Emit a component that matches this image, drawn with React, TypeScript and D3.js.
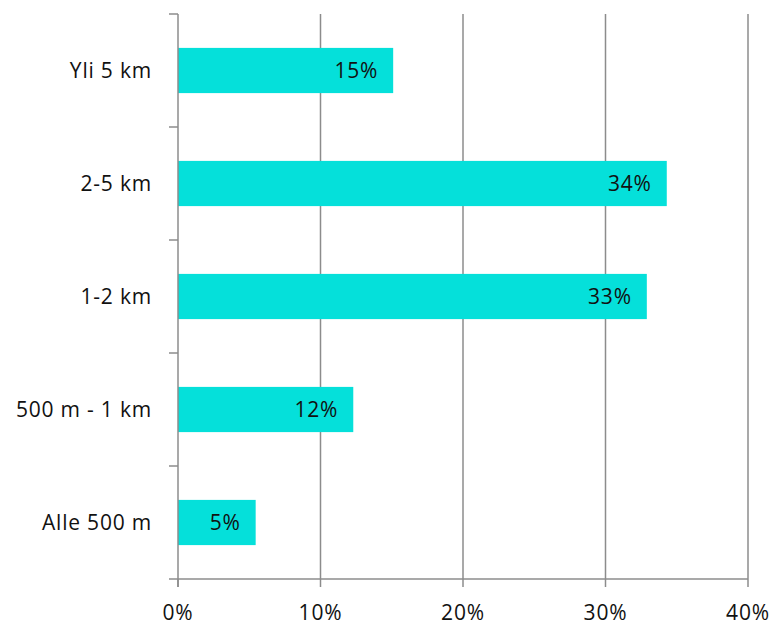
import React from "react";
import * as d3 from "d3";

const categories = ["Yli 5 km", "2-5 km", "1-2 km", "500 m - 1 km", "Alle 500 m"];
const values = [15.1, 34.3, 32.9, 12.3, 5.45];
const valueLabels = ["15%", "34%", "33%", "12%", "5%"];
const xTicks = [0, 10, 20, 30, 40];

export default function App() {
  const W = 775, H = 626;
  const x0 = 178, x1 = 748, y0 = 14, y1 = 579;
  const x = d3.scaleLinear().domain([0, 40]).range([x0, x1]);
  const y = d3.scaleBand().domain(categories).range([y0, y1]).paddingInner(0.6).paddingOuter(0.3);
  const yb = d3.scaleBand().domain(categories).range([y0, y1]);
  const font = "Open Sans, sans-serif";
  const fs = 21;
  const ls = 0.8;
  const gc = "#8c8c8c";
  return (
    <svg width={W} height={H} style={{ position: "absolute", left: 0, top: 0 }}>
      {xTicks.slice(1).map((t) => (
        <line key={t} x1={x(t)} x2={x(t)} y1={y0} y2={y1} stroke={gc} strokeWidth={1.5} />
      ))}
      {categories.map((c, i) => (
        <g key={c}>
          <rect x={x0} y={y(c)} width={x(values[i]) - x0} height={y.bandwidth()} fill="#05E0DA" />
          <text x={x(values[i]) - 15} y={y(c)! + y.bandwidth() / 2} dy="0.36em" textAnchor="end" fontFamily={font} fontSize={fs} letterSpacing={ls} fill="#111">
            {valueLabels[i]}
          </text>
          <text x={152} y={y(c)! + y.bandwidth() / 2} dy="0.36em" textAnchor="end" fontFamily={font} fontSize={fs} letterSpacing={ls} fill="#111">
            {c}
          </text>
        </g>
      ))}
      {/* y axis */}
      <line x1={x0} x2={x0} y1={y0} y2={y1 + 8} stroke={gc} strokeWidth={1.5} />
      {categories.map((c) => (
        <line key={c} x1={x0 - 9} x2={x0} y1={yb(c)} y2={yb(c)} stroke={gc} strokeWidth={1.5} />
      ))}
      {/* x axis */}
      <line x1={x0 - 9} x2={x1} y1={y1} y2={y1} stroke={gc} strokeWidth={1.5} />
      {xTicks.map((t) => (
        <g key={t}>
          <line x1={x(t)} x2={x(t)} y1={y1} y2={y1 + 8} stroke={gc} strokeWidth={1.5} />
          <text x={x(t)} y={612} dy="0.36em" textAnchor="middle" fontFamily={font} fontSize={fs} letterSpacing={ls} fill="#111">
            {t}%
          </text>
        </g>
      ))}
    </svg>
  );
}
